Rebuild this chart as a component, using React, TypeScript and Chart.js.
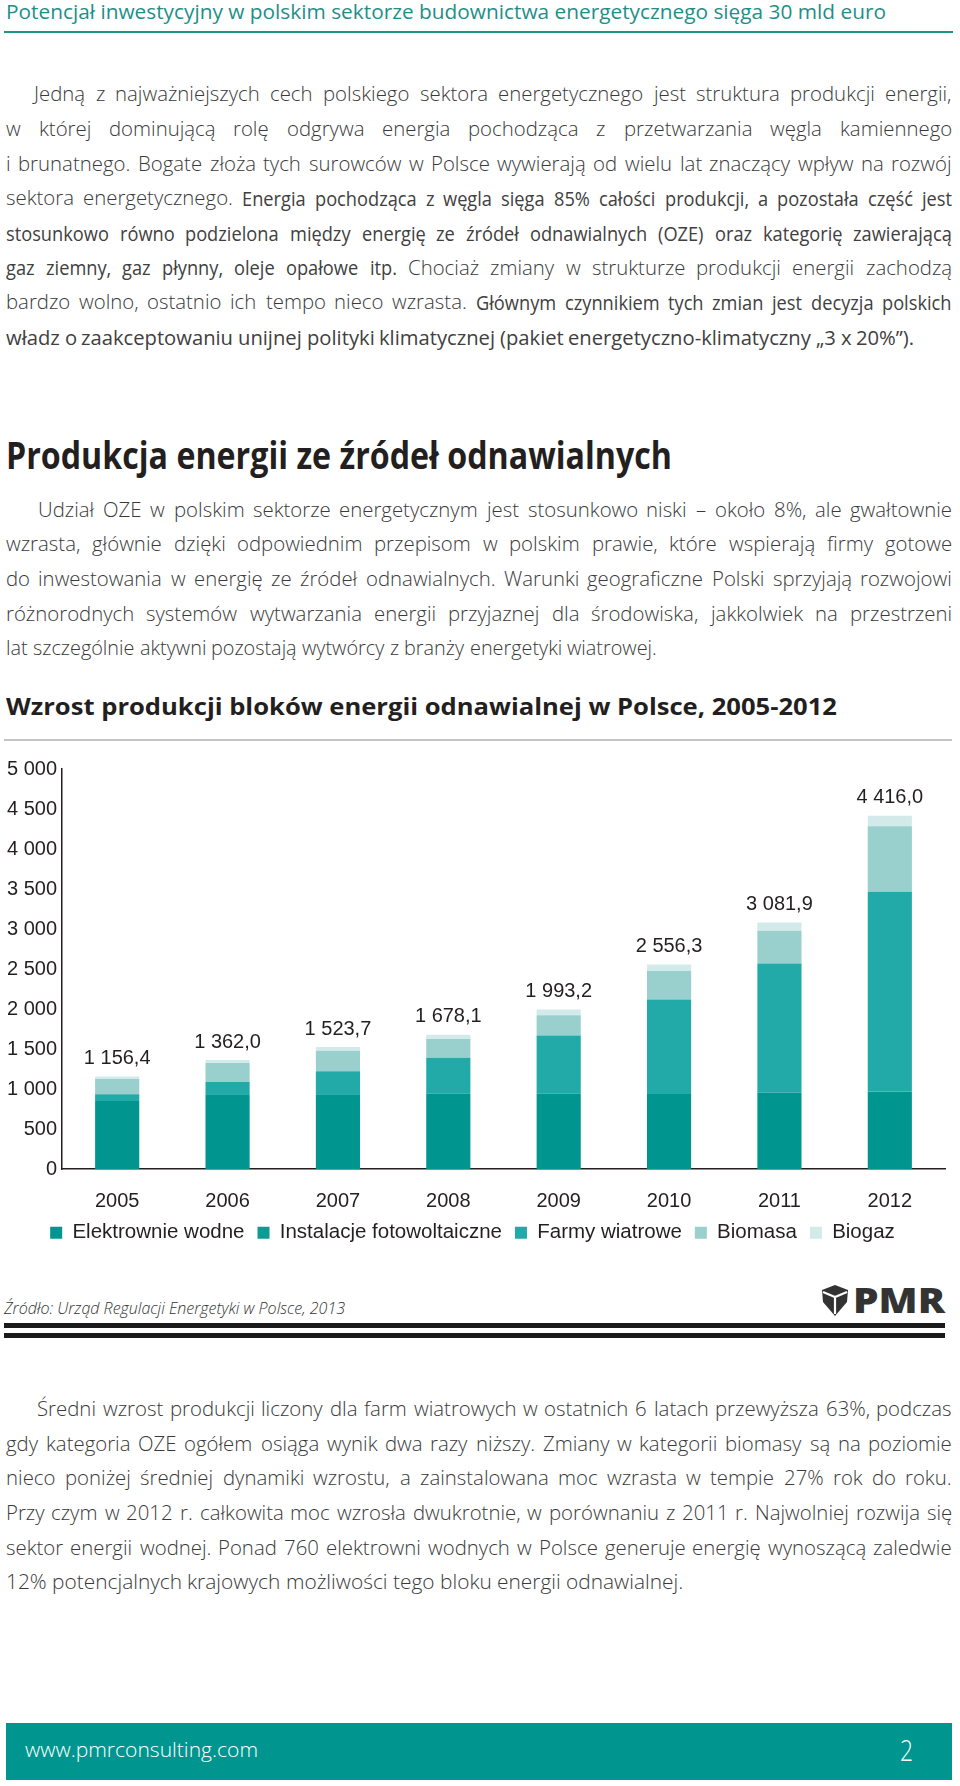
import React, { useEffect, useRef } from 'react';
import { Chart, registerables } from 'chart.js';

Chart.register(...registerables);

// ---------- chart data ----------
const years = ['2005', '2006', '2007', '2008', '2009', '2010', '2011', '2012'];
const seriesNames = ['Elektrownie wodne', 'Instalacje fotowoltaiczne', 'Farmy wiatrowe', 'Biomasa', 'Biogaz'];
const hydro = [851.3, 933.8, 934.8, 940.6, 945.2, 937.0, 951.4, 966.1];
const photovoltaic = [0, 0, 0, 0, 0, 0, 1.1, 1.3];
const wind = [83.3, 152.6, 287.9, 451.1, 724.7, 1180.3, 1616.4, 2496.7];
const biomass = [189.8, 238.8, 255.4, 231.9, 252.5, 356.2, 409.7, 820.7];
const biogas = [32.0, 36.8, 45.6, 54.5, 70.8, 82.8, 103.3, 131.2];
const totals = [1156.4, 1362.0, 1523.7, 1678.1, 1993.2, 2556.3, 3081.9, 4416.0];
const seriesColors = ['#00968f', '#0d9b96', '#22aaa9', '#99cfcd', '#d3eaea'];
const yMax = 5000;
const yStep = 500;

const INK = '#231f20';
const BODY = '#3a3a3a';
const OS = '"Open Sans", "DejaVu Sans", sans-serif';
const ARIAL = '"Liberation Sans", Arial, sans-serif';

function groupThousands(intPart: string) {
  return intPart.replace(/\B(?=(\d{3})+(?!\d))/g, ' ');
}
function fmtDec(v: number) {
  const [i, d] = v.toFixed(1).split('.');
  return groupThousands(i) + ',' + d;
}

// ---------- text measuring ----------
let _ctx: CanvasRenderingContext2D | null = null;
function measure(text: string, font: string) {
  if (!_ctx) _ctx = document.createElement('canvas').getContext('2d');
  _ctx!.font = font;
  return _ctx!.measureText(text).width;
}

type StyleKey = 'c' | 'r';
const TS: Record<StyleKey, { weight: number; size: number; scale: number; color: string }> = {
  c: { weight: 300, size: 21, scale: 0.97, color: BODY },
  r: { weight: 400, size: 19.5, scale: 0.935, color: '#404040' },
};
const fontStr = (s: { weight: number; size: number }) => `${s.weight} ${s.size}px ${OS}`;

type Seg = [string, StyleKey];

function JLine({ segs, left, right, baseline, mode }: { segs: Seg[]; left: number; right: number; baseline: number; mode: 'j' | 'f' }) {
  const words: { t: string; st: StyleKey; w: number }[] = [];
  segs.forEach(([text, st]) => {
    const s = TS[st];
    text.split(' ').filter(Boolean).forEach((t) => words.push({ t, st, w: measure(t, fontStr(s)) * s.scale }));
  });
  const width = right - left;
  const W = words.reduce((a, b) => a + b.w, 0);
  const gaps = Math.max(1, words.length - 1);
  let f = 1;
  let gap: number;
  if (mode === 'j') {
    gap = (width - W) / gaps;
    if (gap < 4) {
      gap = 4;
      f = (width - gap * gaps) / W;
    }
  } else {
    const s = TS[words[0].st];
    gap = measure(' ', fontStr(s)) * s.scale;
    f = (width - gap * gaps) / W;
  }
  let x = left;
  return (
    <>
      {words.map((wd, i) => {
        const s = TS[wd.st];
        const el = (
          <span
            key={i}
            style={{
              position: 'absolute',
              left: x,
              top: baseline - 1.088 * s.size,
              height: 1.4 * s.size,
              lineHeight: `${1.4 * s.size}px`,
              fontFamily: OS,
              fontWeight: s.weight,
              fontSize: s.size,
              color: s.color,
              whiteSpace: 'nowrap',
              transform: `scaleX(${s.scale * f})`,
              transformOrigin: '0 0',
            }}
          >
            {wd.t}
          </span>
        );
        x += wd.w * f + gap;
        return el;
      })}
    </>
  );
}

function FitText({ text, x, baseline, width, size, weight, color, italic }: { text: string; x: number; baseline: number; width: number; size: number; weight: number; color: string; italic?: boolean }) {
  const font = `${italic ? 'italic ' : ''}${weight} ${size}px ${OS}`;
  const s = width / measure(text, font);
  return (
    <div
      style={{
        position: 'absolute',
        left: x,
        top: baseline - 1.088 * size,
        height: 1.4 * size,
        lineHeight: `${1.4 * size}px`,
        fontFamily: OS,
        fontWeight: weight,
        fontStyle: italic ? 'italic' : 'normal',
        fontSize: size,
        color,
        whiteSpace: 'nowrap',
        transform: `scaleX(${s})`,
        transformOrigin: '0 0',
      }}
    >
      {text}
    </div>
  );
}

type Para = { indent: number; base: number; step: number; lastEnd: number; lines: Seg[][] };

const para1: Para = {
  indent: 34,
  base: 102,
  step: 34.7,
  lastEnd: 914,
  lines: [
    [['Jedną z najważniejszych cech polskiego sektora energetycznego jest struktura produkcji energii,', 'c']],
    [['w której dominującą rolę odgrywa energia pochodząca z przetwarzania węgla kamiennego', 'c']],
    [['i brunatnego. Bogate złoża tych surowców w Polsce wywierają od wielu lat znaczący wpływ na rozwój', 'c']],
    [['sektora energetycznego.', 'c'], ['Energia pochodząca z węgla sięga 85% całości produkcji, a pozostała część jest', 'r']],
    [['stosunkowo równo podzielona między energię ze źródeł odnawialnych (OZE) oraz kategorię zawierającą', 'r']],
    [['gaz ziemny, gaz płynny, oleje opałowe itp.', 'r'], ['Chociaż zmiany w strukturze produkcji energii zachodzą', 'c']],
    [['bardzo wolno, ostatnio ich tempo nieco wzrasta.', 'c'], ['Głównym czynnikiem tych zmian jest decyzja polskich', 'r']],
    [['władz o zaakceptowaniu unijnej polityki klimatycznej (pakiet energetyczno-klimatyczny „3 x 20%”).', 'r']],
  ],
};

const para2: Para = {
  indent: 38,
  base: 517.5,
  step: 34.7,
  lastEnd: 657,
  lines: [
    [['Udział OZE w polskim sektorze energetycznym jest stosunkowo niski – około 8%, ale gwałtownie', 'c']],
    [['wzrasta, głównie dzięki odpowiednim przepisom w polskim prawie, które wspierają firmy gotowe', 'c']],
    [['do inwestowania w energię ze źródeł odnawialnych. Warunki geograficzne Polski sprzyjają rozwojowi', 'c']],
    [['różnorodnych systemów wytwarzania energii przyjaznej dla środowiska, jakkolwiek na przestrzeni', 'c']],
    [['lat szczególnie aktywni pozostają wytwórcy z branży energetyki wiatrowej.', 'c']],
  ],
};

const para3: Para = {
  indent: 37,
  base: 1417,
  step: 34.6,
  lastEnd: 683,
  lines: [
    [['Średni wzrost produkcji liczony dla farm wiatrowych w ostatnich 6 latach przewyższa 63%, podczas', 'c']],
    [['gdy kategoria OZE ogółem osiąga wynik dwa razy niższy. Zmiany w kategorii biomasy są na poziomie', 'c']],
    [['nieco poniżej średniej dynamiki wzrostu, a zainstalowana moc wzrasta w tempie 27% rok do roku.', 'c']],
    [['Przy czym w 2012 r. całkowita moc wzrosła dwukrotnie, w porównaniu z 2011 r. Najwolniej rozwija się', 'c']],
    [['sektor energii wodnej. Ponad 760 elektrowni wodnych w Polsce generuje energię wynoszącą zaledwie', 'c']],
    [['12% potencjalnych krajowych możliwości tego bloku energii odnawialnej.', 'c']],
  ],
};

function Paragraph({ p }: { p: Para }) {
  return (
    <>
      {p.lines.map((segs, i) => {
        const last = i === p.lines.length - 1;
        return (
          <JLine
            key={i}
            segs={segs}
            left={i === 0 ? p.indent : 6}
            right={last ? p.lastEnd : 952}
            baseline={p.base + i * p.step}
            mode={last ? 'f' : 'j'}
          />
        );
      })}
    </>
  );
}

function StackChart() {
  const ref = useRef<HTMLCanvasElement>(null);
  useEffect(() => {
    const font = { family: ARIAL, size: 20 };
    const values = [hydro, photovoltaic, wind, biomass, biogas];
    const totalsPlugin = {
      id: 'totalsLabels',
      afterDatasetsDraw(chart: any) {
        const { ctx } = chart;
        const y = chart.scales.y;
        const meta = chart.getDatasetMeta(0);
        ctx.save();
        ctx.font = `20px ${ARIAL}`;
        ctx.fillStyle = INK;
        ctx.textAlign = 'center';
        ctx.textBaseline = 'middle';
        totals.forEach((t, i) => {
          const stackTop = values.reduce((s, arr) => s + arr[i], 0);
          ctx.fillText(fmtDec(t), meta.data[i].x, y.getPixelForValue(stackTop) - 18);
        });
        ctx.restore();
      },
    };
    const chart = new Chart(ref.current as HTMLCanvasElement, {
      type: 'bar',
      data: {
        labels: years,
        datasets: values.map((arr, k) => ({
          label: seriesNames[k],
          data: arr,
          backgroundColor: seriesColors[k],
          borderWidth: 0,
          barPercentage: 0.4,
          categoryPercentage: 1,
        })),
      },
      options: {
        responsive: false,
        animation: false,
        layout: { padding: { left: 0, right: 15, top: 24, bottom: 0 } },
        plugins: {
          legend: {
            position: 'bottom',
            labels: { font: { family: ARIAL, size: 20.5 }, color: INK, boxWidth: 12, boxHeight: 12, padding: 13 },
          },
          tooltip: { enabled: false },
        },
        scales: {
          x: {
            stacked: true,
            grid: { display: false, drawTicks: false },
            border: { display: true, color: INK, width: 1.5 },
            ticks: { font, color: INK, padding: 20 },
            afterFit: (s: any) => {
              s.height = 40.5;
            },
          },
          y: {
            stacked: true,
            min: 0,
            max: yMax,
            grid: { display: false, drawTicks: false },
            border: { display: true, color: INK, width: 1.5 },
            ticks: {
              stepSize: yStep,
              font,
              color: INK,
              padding: 5,
              callback: (v: any) => groupThousands(String(v)),
            },
            afterFit: (s: any) => {
              s.width = 62;
            },
          },
        },
      } as any,
      plugins: [totalsPlugin],
    });
    return () => chart.destroy();
  }, []);
  return (
    <canvas
      ref={ref}
      width={960}
      height={508}
      style={{ position: 'absolute', left: 0, top: 745, width: 960, height: 508 }}
    />
  );
}

export default function App() {
  return (
    <div style={{ position: 'absolute', left: 0, top: 0, width: 960, height: 1786, background: '#fff', overflow: 'hidden' }}>
      <FitText
        text="Potencjał inwestycyjny w polskim sektorze budownictwa energetycznego sięga 30 mld euro"
        x={6}
        baseline={20}
        width={880}
        size={20}
        weight={400}
        color="#1e8f87"
      />
      <div style={{ position: 'absolute', left: 4, top: 31, width: 949, height: 2, background: '#1a968e' }} />

      <Paragraph p={para1} />

      <FitText text="Produkcja energii ze źródeł odnawialnych" x={6} baseline={469} width={666} size={38} weight={700} color={INK} />

      <Paragraph p={para2} />

      <FitText
        text="Wzrost produkcji bloków energii odnawialnej w Polsce, 2005-2012"
        x={6}
        baseline={715}
        width={831}
        size={24}
        weight={700}
        color={INK}
      />
      <div style={{ position: 'absolute', left: 4, top: 739, width: 948, height: 2, background: '#c4c4c4' }} />

      <StackChart />

      <FitText
        text="Źródło: Urząd Regulacji Energetyki w Polsce, 2013"
        x={4}
        baseline={1314}
        width={341}
        size={16}
        weight={300}
        color="#333"
        italic
      />
      <svg style={{ position: 'absolute', left: 821, top: 1285 }} width={28} height={31} viewBox="0 0 28 31">
        <path d="M1 5 L14 0 L27 5 L26 17 L14 31 L2 17 Z" fill="#333" />
        <path d="M2 7 L14 12 L26 7 M14 12 L14 29" stroke="#fff" strokeWidth={2.2} fill="none" />
      </svg>
      <FitText text="PMR" x={853} baseline={1313} width={92} size={35} weight={800} color="#333" />
      <div style={{ position: 'absolute', left: 4, top: 1323, width: 941, height: 5, background: '#1b1b1b' }} />
      <div style={{ position: 'absolute', left: 4, top: 1333, width: 941, height: 5, background: '#1b1b1b' }} />

      <Paragraph p={para3} />

      <div style={{ position: 'absolute', left: 6, top: 1723, width: 946, height: 57, background: '#00968f' }} />
      <FitText text="www.pmrconsulting.com" x={25} baseline={1758} width={233} size={21} weight={300} color="#ffffff" />
      <FitText text="2" x={900} baseline={1762} width={13} size={30} weight={300} color="#ffffff" />
    </div>
  );
}
